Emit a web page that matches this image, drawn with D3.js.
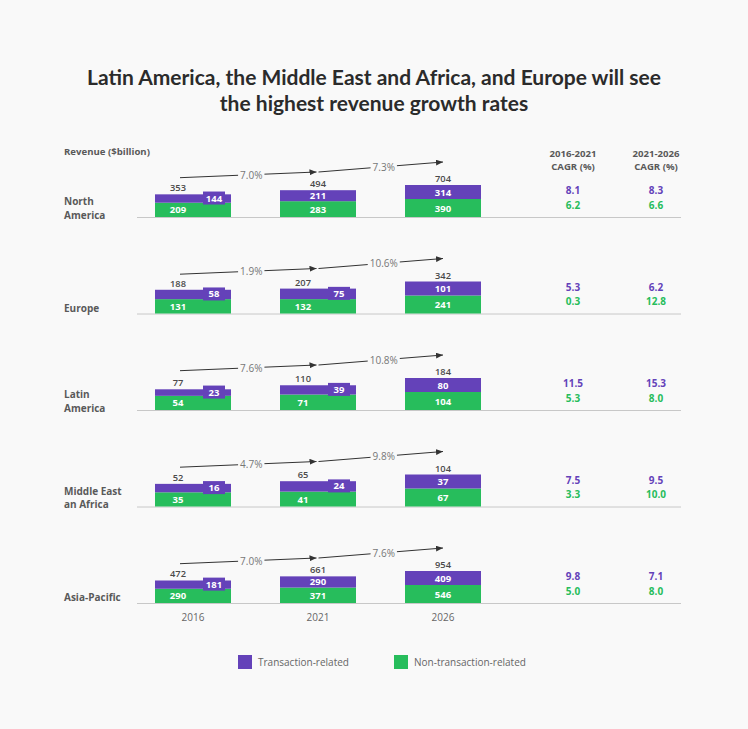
<!DOCTYPE html>
<html><head><meta charset="utf-8">
<script src="https://cdn.jsdelivr.net/npm/d3@7"></script>
<style>
body{margin:0;background:#f9f9f9;}
svg{display:block;font-family:"Open Sans",sans-serif;}
</style>
</head><body><svg id="c" width="748" height="729"></svg>
<script>
const regions = ["North America","Europe","Latin America","Middle East an Africa","Asia-Pacific"];
const regionLines = [["North","America"],["Europe"],["Latin","America"],["Middle East","an Africa"],["Asia-Pacific"]];
const years = ["2016","2021","2026"];
const transaction = [[144,211,314],[58,75,101],[23,39,80],[16,24,37],[181,290,409]];
const nonTransaction = [[209,283,390],[131,132,241],[54,71,104],[35,41,67],[290,371,546]];
const totals = [[353,494,704],[188,207,342],[77,110,184],[52,65,104],[472,661,954]];
const totalCagr = [["7.0%","7.3%"],["1.9%","10.6%"],["7.6%","10.8%"],["4.7%","9.8%"],["7.0%","7.6%"]];
const cagrTrans = [["8.1","8.3"],["5.3","6.2"],["11.5","15.3"],["7.5","9.5"],["9.8","7.1"]];
const cagrNon = [["6.2","6.6"],["0.3","12.8"],["5.3","8.0"],["3.3","10.0"],["5.0","8.0"]];
const cagrHeaders = ["2016-2021","2021-2026"];
const legendLabels = ["Transaction-related","Non-transaction-related"];
const titleLines = ["Latin America, the Middle East and Africa, and Europe will see","the highest revenue growth rates"];

const PURPLE = "#6442b9", GREEN = "#27bd5c", BG = "#f9f9f9";
const svg = d3.select("#c");
svg.append("rect").attr("width",748).attr("height",729).attr("fill",BG);

// Title
titleLines.forEach((t,i)=>{
  svg.append("text").attr("x",374).attr("y",85+i*26).attr("text-anchor","middle")
    .attr("font-family","Lato, 'DejaVu Sans', sans-serif").attr("font-weight",700)
    .attr("font-size",21).attr("fill","#2b2b2b").text(t);
});

svg.append("text").attr("x",64).attr("y",151).attr("dominant-baseline","central")
  .attr("font-size",9.6).attr("font-weight",700).attr("fill","#595959").text("Revenue ($billion)");

const x = d3.scaleBand().domain(years).range([155,481]).paddingInner(0.392).paddingOuter(0);
const bw = x.bandwidth();
const cx = y => x(y) + bw/2;
const rowY = d3.scalePoint().domain(regions).range([217,603]);
const cagrX = d3.scalePoint().domain(cagrHeaders).range([573,656]);

svg.append("defs").append("marker").attr("id","ah").attr("markerUnits","userSpaceOnUse")
  .attr("markerWidth",8).attr("markerHeight",6).attr("refX",7).attr("refY",3).attr("orient","auto")
  .append("path").attr("d","M0,0L7,3L0,6Z").attr("fill","#333");

// CAGR headers
cagrHeaders.forEach(h=>{
  const g = svg.append("g").attr("font-size",9.6).attr("font-weight",700).attr("fill","#595959").attr("text-anchor","middle");
  g.append("text").attr("x",cagrX(h)).attr("y",153).attr("dominant-baseline","central").text(h);
  g.append("text").attr("x",cagrX(h)).attr("y",166).attr("dominant-baseline","central").text("CAGR (%)");
});

regions.forEach((r,i)=>{
  const b = rowY(r);
  const g = svg.append("g");
  g.append("line").attr("x1",137).attr("x2",681).attr("y1",b+0.5).attr("y2",b+0.5)
    .attr("stroke","#c8c8c8").attr("stroke-width",1);
  const lines = regionLines[i];
  lines.forEach((l,k)=>{
    const yy = lines.length===2 ? (k===0 ? b-16 : b-2.5) : b-6;
    g.append("text").attr("x",64).attr("y",yy).attr("dominant-baseline","central")
      .attr("font-size",10).attr("font-weight",700).attr("fill","#595959").text(l);
  });
  const tS = d3.scaleSqrt().domain([0,d3.max(totals[i])]).range([0,32]);
  const gS = d3.scaleLinear().domain([0,d3.max(nonTransaction[i])]).range([10,18]);
  years.forEach((yr,j)=>{
    const gh = gS(nonTransaction[i][j]);
    const th = tS(totals[i][j]);
    const ph = th - gh;
    const badge = ph < 10.8;
    const c = cx(yr);
    g.append("rect").attr("x",x(yr)).attr("width",bw).attr("y",b-gh).attr("height",gh).attr("fill",GREEN);
    g.append("rect").attr("x",x(yr)).attr("width",bw).attr("y",b-th).attr("height",ph).attr("fill",PURPLE);
    const lx = badge ? c-15 : c;
    g.append("text").attr("x",lx).attr("y",b-gh/2).attr("dominant-baseline","central").attr("text-anchor","middle")
      .attr("font-size",9.5).attr("font-weight",700).attr("fill","#fff").text(nonTransaction[i][j]);
    const pc = b-gh-ph/2;
    if(badge){
      g.append("rect").attr("x",c+10).attr("width",22).attr("y",pc-7).attr("height",13).attr("fill",PURPLE);
      g.append("text").attr("x",c+21).attr("y",pc-0.5).attr("dominant-baseline","central").attr("text-anchor","middle")
        .attr("font-size",9.5).attr("font-weight",700).attr("fill","#fff").text(transaction[i][j]);
    } else {
      g.append("text").attr("x",c).attr("y",pc).attr("dominant-baseline","central").attr("text-anchor","middle")
        .attr("font-size",9.5).attr("font-weight",700).attr("fill","#fff").text(transaction[i][j]);
    }
    g.append("text").attr("x",lx).attr("y",b-th-3).attr("text-anchor","middle")
      .attr("font-size",9.3).attr("font-weight",600).attr("fill","#4a4a4a").text(totals[i][j]);
  });
  const segs = [
    [[cx(years[0])-13,b-39.3],[cx(years[1])-1.5,b-45]],
    [[cx(years[1])+0.5,b-45],[cx(years[2]),b-55]]
  ];
  segs.forEach((s,k)=>{
    g.append("line").attr("x1",s[0][0]).attr("y1",s[0][1]).attr("x2",s[1][0]).attr("y2",s[1][1])
      .attr("stroke","#333").attr("stroke-width",1).attr("marker-end","url(#ah)");
    const mx = (s[0][0]+s[1][0])/2 + 3;
    const t = (mx - s[0][0])/(s[1][0]-s[0][0]);
    const my = s[0][1] + t*(s[1][1]-s[0][1]);
    const txt = g.append("text").attr("x",mx).attr("y",my).attr("dominant-baseline","central").attr("text-anchor","middle")
      .attr("font-size",10).attr("fill","#777").text(totalCagr[i][k]);
    const bb = txt.node().getBBox();
    g.insert("rect", function(){return txt.node();}).attr("x",bb.x-2).attr("y",bb.y).attr("width",bb.width+4).attr("height",bb.height).attr("fill",BG);
  });
  cagrHeaders.forEach((h,k)=>{
    g.append("text").attr("x",cagrX(h)).attr("y",b-27).attr("dominant-baseline","central").attr("text-anchor","middle")
      .attr("font-size",10).attr("font-weight",700).attr("fill",PURPLE).text(cagrTrans[i][k]);
    g.append("text").attr("x",cagrX(h)).attr("y",b-12.5).attr("dominant-baseline","central").attr("text-anchor","middle")
      .attr("font-size",10).attr("font-weight",700).attr("fill",GREEN).text(cagrNon[i][k]);
  });
});

const ax = svg.append("g").attr("transform","translate(0,614)")
  .call(d3.axisBottom(x).tickSize(0).tickPadding(0));
ax.select(".domain").remove();
ax.selectAll("text").attr("font-family","'Open Sans',sans-serif").attr("font-size",10).attr("fill","#666");

const leg = [[238,PURPLE],[394,GREEN]];
legendLabels.forEach((l,i)=>{
  svg.append("rect").attr("x",leg[i][0]).attr("y",655).attr("width",14).attr("height",14).attr("fill",leg[i][1]);
  svg.append("text").attr("x",leg[i][0]+20).attr("y",662).attr("dominant-baseline","central")
    .attr("font-size",10).attr("fill","#666").text(l);
});
</script></body></html>
